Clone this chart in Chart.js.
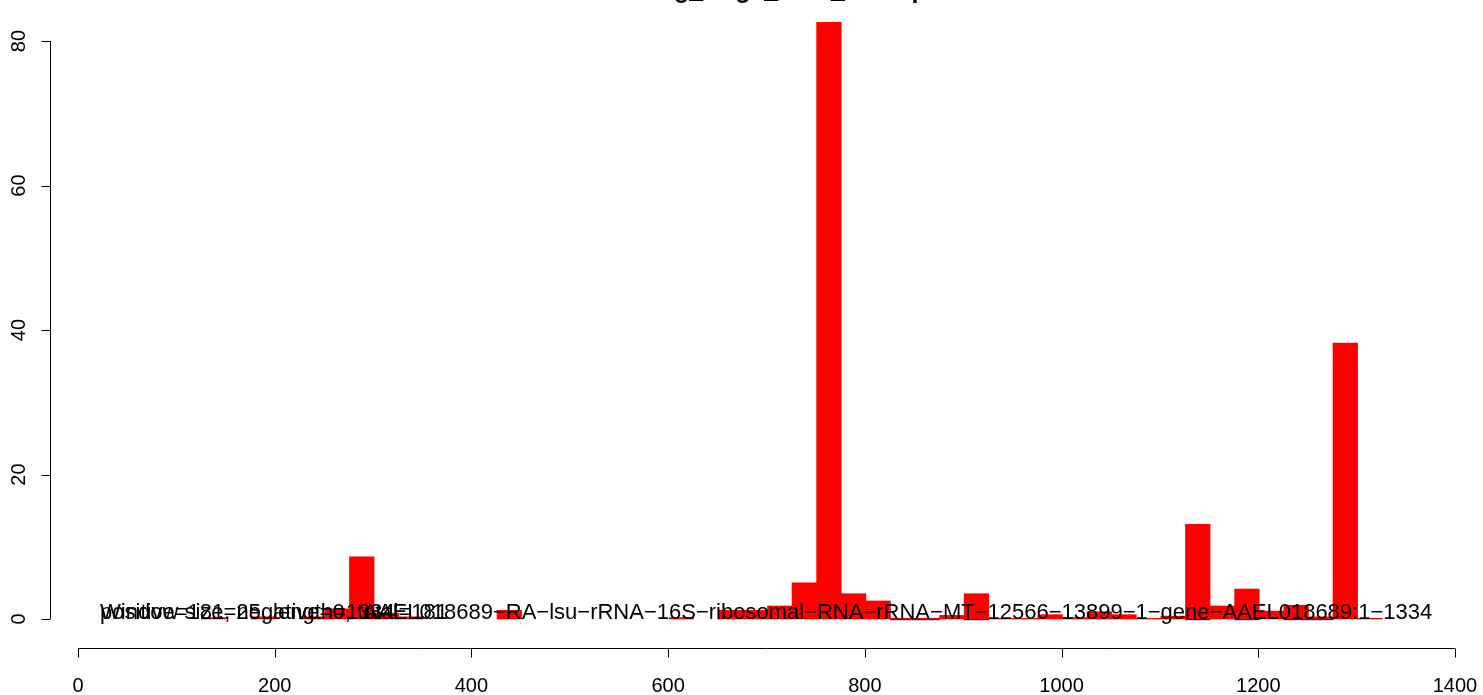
<!DOCTYPE html>
<html>
<head>
<meta charset="utf-8">
<script src="https://cdn.jsdelivr.net/npm/chart.js@4.4.1/dist/chart.umd.min.js"></script>
<style>
  html, body { margin: 0; padding: 0; background: #ffffff; }
  #wrap { width: 1483px; height: 695px; }
</style>
</head>
<body>
<div id="wrap"><canvas id="c" width="1483" height="695"></canvas></div>
<script>
// ---- data ----
const windowSize = 25;
const binStarts = [1,26,51,76,101,126,151,176,201,226,251,276,301,326,351,376,401,426,451,476,501,526,551,576,601,626,651,676,701,726,751,776,801,826,851,876,901,926,951,976,1001,1026,1051,1076,1101,1126,1151,1176,1201,1226,1251,1276,1301,1326];
const positiveValues = [null,null,null,null,null,0.2,null,0.3,null,0.3,1.4,8.6,0.8,0.3,null,null,null,1.2,null,null,null,null,null,null,0.2,null,1.2,1.2,1.8,5.0,82.6,3.5,2.5,0.1,0.1,0.5,3.5,0.1,0.1,0.6,0.2,1.0,0.6,0.1,0.4,13.1,1.8,4.15,1.1,1.9,0.3,38.2,0.1,null];
const negativeValues = [null,null,null,null,null,null,null,null,null,null,null,null,null,null,null,null,null,null,null,null,null,null,null,null,null,null,null,null,null,null,null,null,null,-0.12,-0.12,null,-0.12,null,null,null,null,null,null,null,null,-0.12,null,-0.12,null,-0.12,-0.12,null,null,null];
const xTicks = [0,200,400,600,800,1000,1200,1400];
const yTicks = [0,20,40,60,80];
const titleText = "Trimming_Aag2_total_readsplot";
const infoLine1 = "Window size=25, length=1334";
const infoLine2 = "positive=181, negative=0, total=181";
const geneName = "AAEL018689\u2212RA\u2212lsu\u2212rRNA\u221216S\u2212ribosomal\u2212RNA\u2212rRNA\u2212MT\u221212566\u221213899\u22121\u2212gene\u2212AAEL018689:1\u22121334";
const infoX = 22.4;      // data x where the info texts start
const geneX = 290;       // data x where the gene label starts
const xRange = [-28.47, 1428.5];
const yRange = [-4.014, 85.68];

const posData = binStarts.map((s, i) => ({ x: s + windowSize / 2, y: positiveValues[i] }));
const negData = binStarts.map((s, i) => ({ x: s + windowSize / 2, y: negativeValues[i] }));

const FONT = '"Liberation Sans", Arial, Helvetica, sans-serif';

const axesPlugin = {
  id: 'rAxes',
  afterDraw(chart) {
    const ctx = chart.ctx;
    const xs = chart.scales.x, ys = chart.scales.y;
    const ca = chart.chartArea;
    ctx.save();
    ctx.strokeStyle = '#000';
    ctx.fillStyle = '#000';
    ctx.lineWidth = 1;
    // x axis
    const xb = Math.round(ca.bottom) + 0.5;
    ctx.beginPath();
    ctx.moveTo(xs.getPixelForValue(xTicks[0]), xb);
    ctx.lineTo(xs.getPixelForValue(xTicks[xTicks.length - 1]), xb);
    xTicks.forEach(t => {
      const p = Math.round(xs.getPixelForValue(t)) + 0.5;
      ctx.moveTo(p, xb);
      ctx.lineTo(p, xb + 9);
    });
    ctx.stroke();
    ctx.font = '20px ' + FONT;
    ctx.textAlign = 'center';
    ctx.textBaseline = 'alphabetic';
    xTicks.forEach(t => {
      ctx.fillText(String(t), xs.getPixelForValue(t), 692);
    });
    // y axis
    const yl = Math.round(ca.left) + 0.5;
    ctx.beginPath();
    ctx.moveTo(yl, ys.getPixelForValue(yTicks[0]));
    ctx.lineTo(yl, ys.getPixelForValue(yTicks[yTicks.length - 1]));
    yTicks.forEach(t => {
      const p = Math.round(ys.getPixelForValue(t)) + 0.5;
      ctx.moveTo(yl, p);
      ctx.lineTo(yl - 9, p);
    });
    ctx.stroke();
    yTicks.forEach(t => {
      ctx.save();
      ctx.translate(25, ys.getPixelForValue(t));
      ctx.rotate(-Math.PI / 2);
      ctx.textAlign = 'center';
      ctx.fillText(String(t), 0, 0);
      ctx.restore();
    });
    // texts on the baseline
    ctx.font = '22px ' + FONT;
    ctx.textAlign = 'left';
    const y0 = ys.getPixelForValue(0);
    ctx.fillStyle = '#000';
    ctx.fillText(infoLine1, xs.getPixelForValue(infoX), y0);
    ctx.fillText(infoLine2, xs.getPixelForValue(infoX), y0);
    ctx.fillText(geneName, xs.getPixelForValue(geneX), y0);
    // title (cut off at the top of the picture)
    ctx.font = 'bold 25px ' + FONT;
    const anchor = titleText.indexOf('_readsplot');
    const pre = ctx.measureText(titleText.slice(0, anchor)).width;
    ctx.fillText(titleText, 831 - pre, -2);
    ctx.restore();
  }
};

new Chart(document.getElementById('c'), {
  type: 'bar',
  data: {
    datasets: [
      { label: 'positive', data: posData, backgroundColor: '#ff0000', borderWidth: 0,
        barPercentage: 1.0, categoryPercentage: 1.0, grouped: false },
      { label: 'negative', data: negData, backgroundColor: '#0000ff', borderWidth: 0,
        barPercentage: 1.0, categoryPercentage: 1.0, grouped: false }
    ]
  },
  options: {
    responsive: false,
    animation: false,
    layout: { padding: { left: 50, right: 0, top: 0, bottom: 47 } },
    plugins: { legend: { display: false }, tooltip: { enabled: false }, title: { display: false } },
    scales: {
      x: { type: 'linear', display: false, offset: false, min: xRange[0], max: xRange[1] },
      y: { type: 'linear', display: false, min: yRange[0], max: yRange[1] }
    }
  },
  plugins: [axesPlugin]
});
</script>
</body>
</html>
